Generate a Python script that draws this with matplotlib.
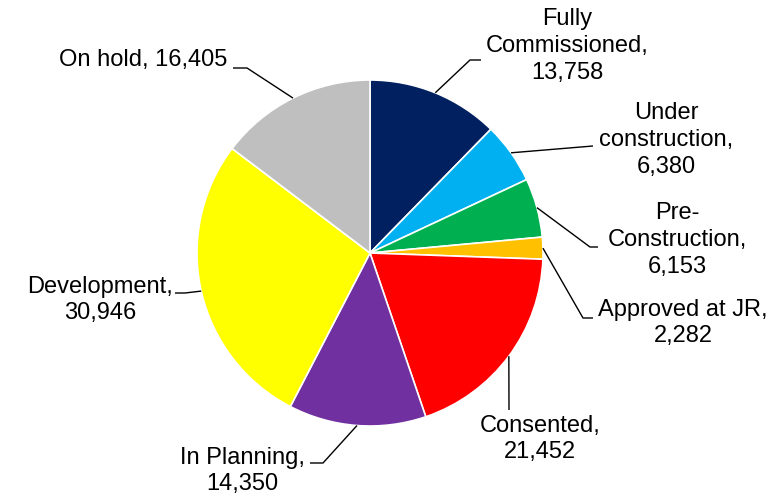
import numpy as np
import matplotlib
matplotlib.use('Agg')
import matplotlib.pyplot as plt

plt.rcParams['font.family'] = ['Liberation Sans', 'DejaVu Sans']

# data
categories = ['Fully\nCommissioned', 'Under\nconstruction', 'Pre-\nConstruction', 'Approved at JR',
              'Consented', 'In Planning', 'Development', 'On hold']
values = [13758, 6380, 6153, 2282, 21452, 14350, 30946, 16405]
colors = ['#002060', '#00B0F0', '#00B050', '#FFC000', '#FF0000', '#7030A0', '#FFFF00', '#BFBFBF']

# label layout in pixels (text centre, leader-line knee, leader-line end)
W, H = 781, 499
label_xy = [(567, 46), (666, 140), (677, 240), (683, 323), (540, 439), (242, 471), (100, 300), (143, 60)]
knee_xy = [(470, 60), None, (590, 247), (583, 318), None, (323, 463), (185, 293), (247, 68)]
end_xy = [(481, 60), (593, 146), (598, 247), (593, 318), (509, 410), (310, 463), (175, 293), (233, 68)]
one_line = [False, False, False, False, False, False, False, True]

fig = plt.figure(figsize=(W / 100, H / 100), dpi=100)
ax = fig.add_axes([0, 0, 1, 1])
ax.set_xlim(0, W)
ax.set_ylim(0, H)
ax.set_aspect('equal')
ax.axis('off')

cx, cy, r = 370, H - 253, 173
wedges, _ = ax.pie(values, colors=colors, startangle=90, counterclock=False,
                   center=(cx, cy), radius=r, frame=True,
                   wedgeprops=dict(edgecolor='white', linewidth=1.2))
ax.set_xlim(0, W)
ax.set_ylim(0, H)
ax.axis('off')

for i, w in enumerate(wedges):
    mid = np.deg2rad((w.theta1 + w.theta2) / 2)
    sx, sy = cx + r * np.cos(mid), cy + r * np.sin(mid)
    pts = [(sx, sy)]
    if knee_xy[i] is not None:
        pts.append((knee_xy[i][0], H - knee_xy[i][1]))
    pts.append((end_xy[i][0], H - end_xy[i][1]))
    xs, ys = zip(*pts)
    ax.plot(xs, ys, color='black', linewidth=1.0, solid_capstyle='butt')

    sep = ' ' if one_line[i] else '\n'
    txt = f"{categories[i]},{sep}{values[i]:,}"
    ax.text(label_xy[i][0], H - label_xy[i][1], txt, ha='center', va='center',
            fontsize=17, color='black', linespacing=1.27)

fig.savefig('out.png', dpi=100)
